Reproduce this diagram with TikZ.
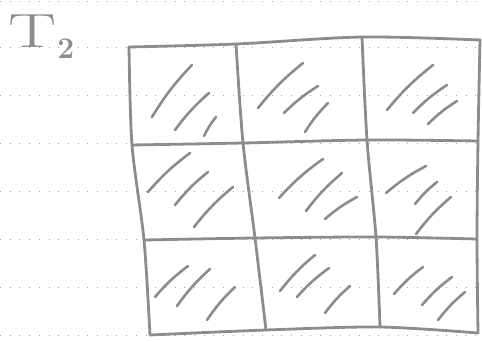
\documentclass[tikz,border=0pt]{standalone}
\begin{document}
\begin{tikzpicture}[x=1pt,y=-1pt,
  gridline/.style={draw=gray!90,line width=2.8pt,line cap=round,line join=round},
  hatch/.style={draw=gray!90,line width=2.6pt,line cap=round},
  ruling/.style={draw=gray!70,line width=0.7pt,dash pattern=on 0.7pt off 9pt}]
\useasboundingbox (0,0) rectangle (482,341);
\foreach \y in {1,47,95,143,191,239,287,335} \draw[ruling] (0,\y) -- (482,\y);
\node[text=gray!90,anchor=base west,inner sep=0pt] (tlabel) at (8,47)
  {\fontsize{48}{48}\selectfont\scalebox{1.5}[1]{T}\kern1pt\raisebox{-11pt}{\fontsize{30}{30}\selectfont\bfseries 2}};
\coordinate (g00) at (129,47); \coordinate (g01) at (236,44); \coordinate (g02) at (362,37); \coordinate (g03) at (480,40);
\coordinate (g10) at (132,145); \coordinate (g11) at (243,143); \coordinate (g12) at (367,140); \coordinate (g13) at (478,141);
\coordinate (g20) at (144,240); \coordinate (g21) at (255,238); \coordinate (g22) at (376,237); \coordinate (g23) at (477,239);
\coordinate (g30) at (150,335); \coordinate (g31) at (266,330); \coordinate (g32) at (380,327); \coordinate (g33) at (478,333);
\draw[gridline] plot[smooth] coordinates {(g00) (g01) (g02) (g03)};
\draw[gridline] plot[smooth] coordinates {(g10) (g11) (g12) (g13)};
\draw[gridline] plot[smooth] coordinates {(g20) (g21) (g22) (g23)};
\draw[gridline] plot[smooth] coordinates {(g30) (g31) (g32) (g33)};
\foreach \c in {0,1,2,3} \draw[gridline] plot[smooth] coordinates {(g0\c) (g1\c) (g2\c) (g3\c)};
\foreach \x/\y/\u/\v in {152/117/192/65, 175/130/209/93, 204/136/216/117,
                   258/108/303/63, 284/113/318/86, 305/132/328/103,
                   387/110/433/65, 413/113/447/85, 428/124/457/101,
                   148/192/190/153, 175/205/208/172, 194/227/233/187,
                   279/198/323/159, 306/211/342/173, 325/219/357/197,
                   386/193/426/166, 415/204/437/182, 416/234/451/197,
                   155/297/188/266, 177/306/210/269, 207/320/235/287,
                   280/291/315/255, 297/297/329/268, 325/313/350/286,
                   394/294/423/267, 422/305/452/277, 438/320/465/292}
  \draw[hatch] (\x,\y) to[bend left=6] (\u,\v);
\end{tikzpicture}
\end{document}
